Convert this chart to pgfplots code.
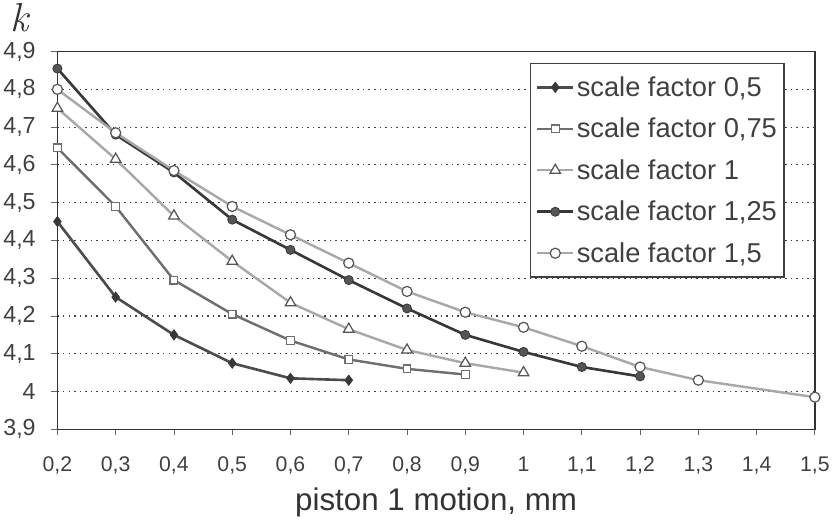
\documentclass[border=0pt]{standalone}
\usepackage{fontspec}
\setmainfont{Liberation Sans}
\newfontfamily\kfont{Latin Modern Roman}
\usepackage{pgfplots}
\pgfplotsset{compat=1.18}

\definecolor{sdark}{HTML}{383838}
\definecolor{smid}{HTML}{6E6E6E}
\definecolor{slight}{HTML}{A8A8A8}
\definecolor{edge}{HTML}{555555}

\begin{document}
\begin{tikzpicture}
\begin{axis}[
    width=750pt, height=374pt, scale only axis, clip=false,
    xmin=0.2, xmax=1.5, ymin=3.9, ymax=4.9,
    xtick={0.2,0.3,0.4,0.5,0.6,0.7,0.8,0.9,1,1.1,1.2,1.3,1.4,1.5},
    ytick={3.9,4,4.1,4.2,4.3,4.4,4.5,4.6,4.7,4.8,4.9},
    /pgf/number format/.cd, use comma, fixed, precision=1, assume math mode=true,
    /pgfplots/.cd,
    xtick pos=bottom, ytick pos=left, tick align=outside,
    major tick length=6pt,
    tick style={black!60, line width=0.8pt},
    axis line style={black!80, line width=1.3pt},
    ymajorgrids,
    grid style={black!75, line width=1.2pt, dash pattern=on 1.5pt off 4pt},
    xticklabel style={font=\fontsize{21}{25}\selectfont, text=black!75, yshift=-18pt},
    yticklabel style={font=\fontsize{23}{27}\selectfont, text=black!75, xshift=-12pt},
    xlabel={piston 1 motion, mm},
    xlabel style={font=\fontsize{31}{36}\selectfont, text=black!80, yshift=-6pt},
    legend style={at={(rel axis cs:0.96,0.97)}, anchor=north east,
        draw=black!75, line width=1.3pt, fill=white,
        font=\fontsize{27}{31}\selectfont, text=black!75,
        row sep=16pt, inner xsep=5pt, inner ysep=11pt},
    legend cell align=left,
    legend image code/.code={\draw[mark repeat=2,mark phase=2] plot coordinates {(0pt,0pt)(18pt,0pt)(36pt,0pt)};},
]
\addplot[sdark!90, line width=2.6pt, mark=diamond*, mark size=5pt,
    mark options={fill=sdark, draw=sdark, line width=0.8pt}]
    coordinates {(0.2,4.45) (0.3,4.25) (0.4,4.15) (0.5,4.075) (0.6,4.035) (0.7,4.03)};
\addlegendentry{scale factor 0,5}
\addplot[smid, line width=2.4pt, mark=square*, mark size=3.8pt,
    mark options={fill=white, draw=smid, line width=1.2pt}]
    coordinates {(0.2,4.645) (0.3,4.49) (0.4,4.295) (0.5,4.205) (0.6,4.135) (0.7,4.085) (0.8,4.06) (0.9,4.045)};
\addlegendentry{scale factor 0,75}
\addplot[slight, line width=2.4pt, mark=triangle*, mark size=6pt,
    mark options={fill=white, draw=edge, line width=1.2pt}]
    coordinates {(0.2,4.75) (0.3,4.615) (0.4,4.465) (0.5,4.345) (0.6,4.235) (0.7,4.165) (0.8,4.11) (0.9,4.075) (1,4.05)};
\addlegendentry{scale factor 1}
\addplot[sdark, line width=2.6pt, mark=*, mark size=4.5pt,
    mark options={fill=edge, draw=sdark, line width=0.8pt}]
    coordinates {(0.2,4.855) (0.3,4.68) (0.4,4.58) (0.5,4.455) (0.6,4.375) (0.7,4.295) (0.8,4.22) (0.9,4.15) (1,4.105) (1.1,4.065) (1.2,4.04)};
\addlegendentry{scale factor 1,25}
\addplot[slight, line width=2.4pt, mark=*, mark size=5pt,
    mark options={fill=white, draw=edge, line width=1.2pt}]
    coordinates {(0.2,4.80) (0.3,4.685) (0.4,4.585) (0.5,4.49) (0.6,4.415) (0.7,4.34) (0.8,4.265) (0.9,4.21) (1,4.17) (1.1,4.12) (1.2,4.065) (1.3,4.03) (1.5,3.985)};
\addlegendentry{scale factor 1,5}
\node[font=\fontsize{40}{44}\selectfont\kfont\itshape, text=black!80] at (rel axis cs:-0.05,1.09) {k};
\end{axis}
\end{tikzpicture}
\end{document}
